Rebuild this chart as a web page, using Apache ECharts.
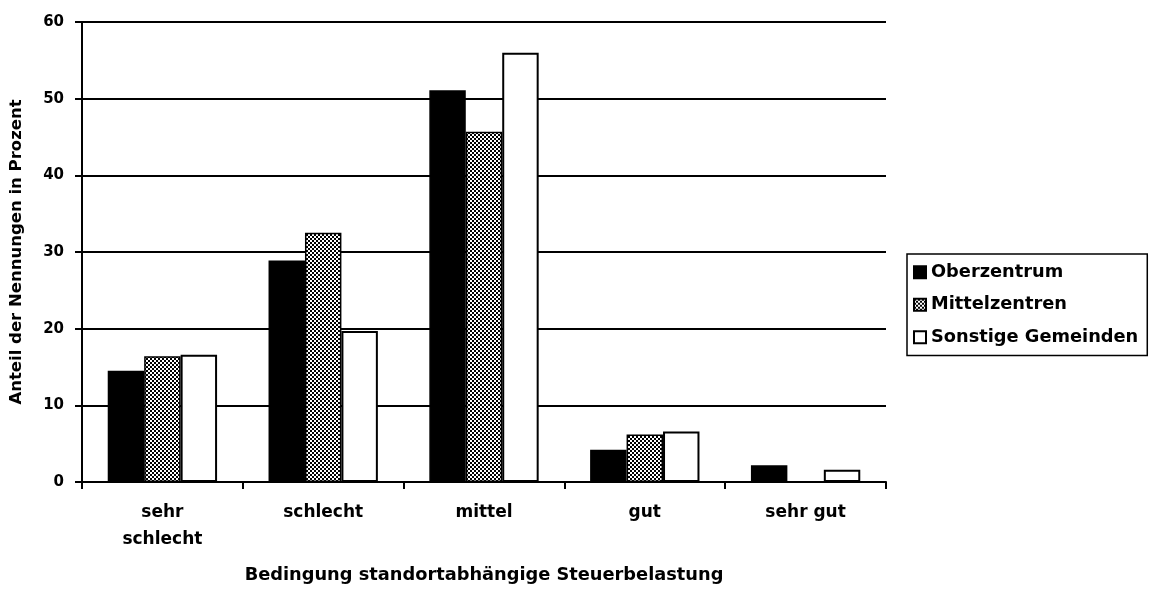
<!DOCTYPE html>
<html>
<head>
<meta charset="utf-8">
<script src="https://cdn.jsdelivr.net/npm/echarts@6/dist/echarts.min.js"></script>
<style>
html,body{margin:0;padding:0;background:#fff;}
#chart{width:1150px;height:589px;}
</style>
</head>
<body>
<div id="chart"></div>
<script>
const categories = ['sehr schlecht', 'schlecht', 'mittel', 'gut', 'sehr gut'];
const seriesNames = ['Oberzentrum', 'Mittelzentren', 'Sonstige Gemeinden'];
const oberzentrum = [14.5, 28.9, 51.1, 4.2, 2.2];
const mittelzentren = [16.4, 32.5, 45.7, 6.2, 0];
const sonstige = [16.6, 19.7, 56.0, 6.6, 1.6];
const yTicks = [0, 10, 20, 30, 40, 50, 60];

// checkered fill pattern
const pat = document.createElement('canvas');
pat.width = 4; pat.height = 4;
const pc = pat.getContext('2d');
pc.fillStyle = '#fff'; pc.fillRect(0, 0, 4, 4);
pc.fillStyle = '#000';
pc.fillRect(0, 0, 2, 2);
pc.fillRect(2, 2, 2, 2);

const FONT = '"DejaVu Sans", "Liberation Sans", Arial, sans-serif';
const chart = echarts.init(document.getElementById('chart'));

const base = {
  type: 'bar',
  barGap: '0%',
  barCategoryGap: '32%',
  animation: false
};

chart.setOption({
  animation: false,
  backgroundColor: '#fff',
  grid: { left: 82, right: 264, top: 22, bottom: 106, containLabel: false },
  legend: {
    orient: 'vertical',
    left: 907,
    top: 254,
    padding: [8, 9, 8, 6],
    itemGap: 12,
    itemWidth: 12,
    itemHeight: 12,
    icon: 'rect',
    borderColor: '#000',
    borderWidth: 1.5,
    borderRadius: 0,
    textStyle: { fontFamily: FONT, fontWeight: 'bold', fontSize: 17.8, color: '#000', lineHeight: 20.5 },
    data: seriesNames
  },
  xAxis: {
    type: 'category',
    data: categories,
    name: 'Bedingung standortabhängige Steuerbelastung',
    nameLocation: 'middle',
    nameGap: 84,
    nameTextStyle: { fontFamily: FONT, fontWeight: 'bold', fontSize: 17.8, color: '#000' },
    axisLine: { lineStyle: { color: '#000', width: 2 } },
    axisTick: { show: true, length: 7, lineStyle: { color: '#000', width: 2 } },
    axisLabel: {
      fontFamily: FONT, fontWeight: 'bold', fontSize: 17, color: '#000',
      margin: 17, lineHeight: 27,
      formatter: v => v === 'sehr schlecht' ? 'sehr\nschlecht' : v
    },
    splitLine: { show: false }
  },
  yAxis: {
    type: 'value',
    min: yTicks[0],
    max: yTicks[yTicks.length - 1],
    interval: 10,
    name: 'Anteil der Nennungen in Prozent',
    nameLocation: 'middle',
    nameGap: 57,
    nameTextStyle: { fontFamily: FONT, fontWeight: 'bold', fontSize: 16.5, color: '#000' },
    axisLine: { show: true, lineStyle: { color: '#000', width: 2 } },
    axisTick: { show: true, length: 7, lineStyle: { color: '#000', width: 2 } },
    axisLabel: { fontFamily: FONT, fontWeight: 'bold', fontSize: 15, color: '#000', margin: 18 },
    splitLine: { show: true, lineStyle: { color: '#000', width: 2 } }
  },
  series: [
    Object.assign({}, base, {
      name: seriesNames[0], data: oberzentrum,
      itemStyle: { color: '#000', borderColor: '#000', borderWidth: 1.5 }
    }),
    Object.assign({}, base, {
      name: seriesNames[1], data: mittelzentren,
      itemStyle: { color: { image: pat, repeat: 'repeat' }, borderColor: '#000', borderWidth: 1.5 }
    }),
    Object.assign({}, base, {
      name: seriesNames[2], data: sonstige,
      itemStyle: { color: '#fff', borderColor: '#000', borderWidth: 2 }
    })
  ]
});
</script>
</body>
</html>
